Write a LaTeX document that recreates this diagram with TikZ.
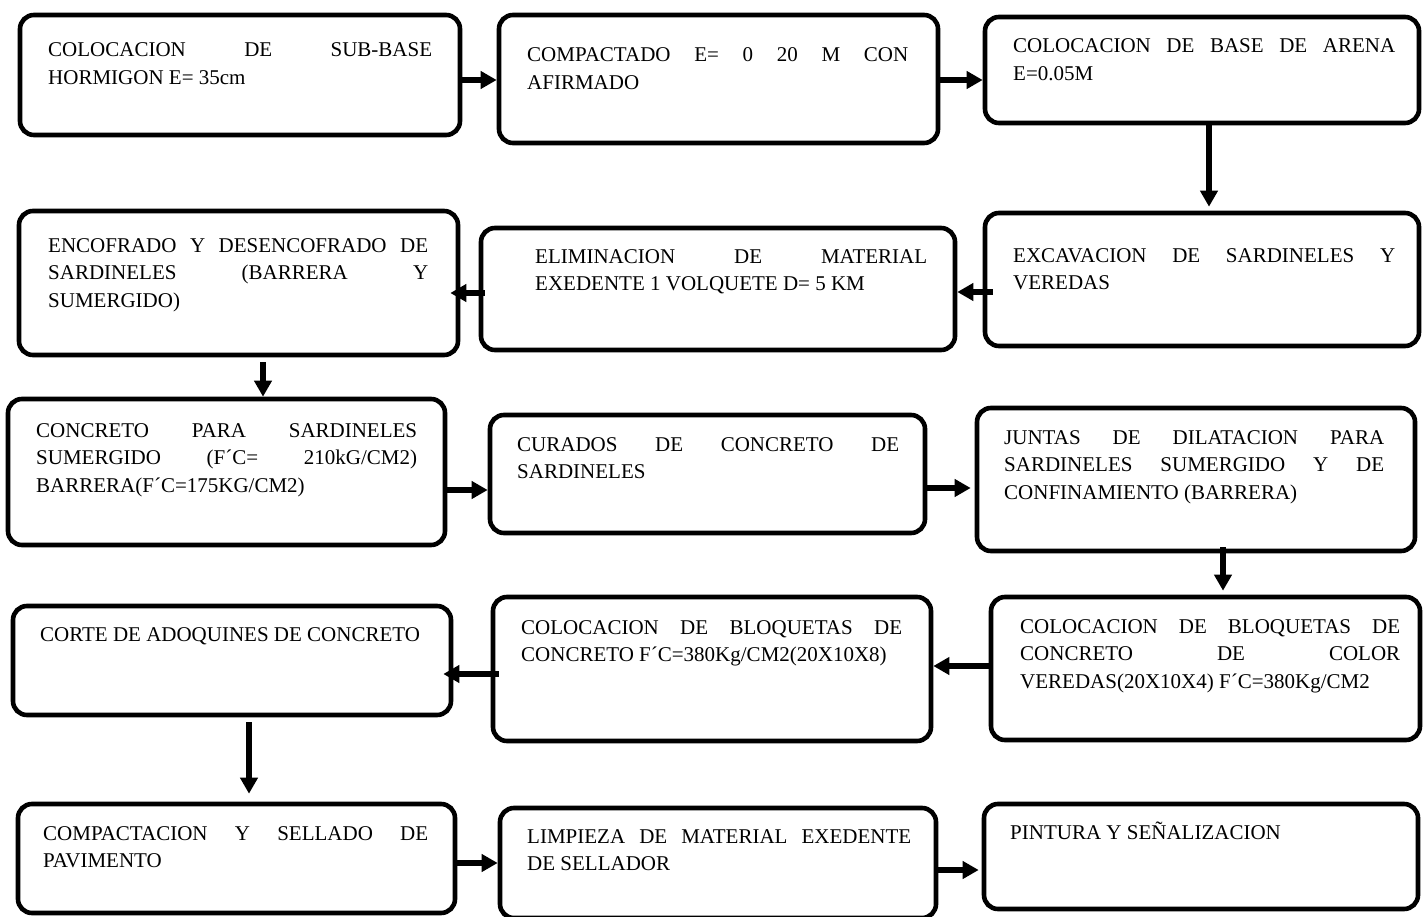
\documentclass[tikz,border=0pt]{standalone}
\usepackage{fontspec}
\setmainfont{Liberation Serif}
\usetikzlibrary{arrows.meta}
\newcommand\myjl[1]{\hbox to \hsize{#1}}
\newcommand\mylast[1]{\hbox{#1}}
\newcommand\mytxt[2]{\vtop{\hsize=#1pt\baselineskip=27.5pt\lineskiplimit=-50pt #2}}
\begin{document}
\begin{tikzpicture}[x=1pt,y=-1pt,
  stepbox/.style={draw=black, line width=4.6pt, rounded corners=14pt, rectangle, inner sep=0pt},
  txt/.style={anchor=base west, inner sep=0pt, font=\fontsize{21}{27.5}\selectfont},
  arr/.style={line width=5.5pt, -{Triangle[length=16pt,width=17pt]}}]
\fill[white] (0,0) rectangle (1423,917);
\useasboundingbox (0,0) rectangle (1423,917);

% boxes
\node[stepbox, minimum width=440pt, minimum height=120pt] (b1) at (240,75) {};
\node[stepbox, minimum width=439pt, minimum height=128pt] (b2) at (718.5,79) {};
\node[stepbox, minimum width=434pt, minimum height=106pt] (b3) at (1202,70) {};
\node[stepbox, minimum width=434pt, minimum height=133pt] (b4) at (1202,279.5) {};
\node[stepbox, minimum width=474pt, minimum height=122pt] (b5) at (718,289) {};
\node[stepbox, minimum width=439pt, minimum height=144pt] (b6) at (238.5,283) {};
\node[stepbox, minimum width=437pt, minimum height=146pt] (b7) at (226.5,472) {};
\node[stepbox, minimum width=435pt, minimum height=118pt] (b8) at (707.5,474) {};
\node[stepbox, minimum width=438pt, minimum height=143pt] (b9) at (1196,479.5) {};
\node[stepbox, minimum width=429pt, minimum height=143pt] (b10) at (1205.5,668.5) {};
\node[stepbox, minimum width=438pt, minimum height=144pt] (b11) at (712,669) {};
\node[stepbox, minimum width=438pt, minimum height=109pt] (b12) at (232,660.5) {};
\node[stepbox, minimum width=437pt, minimum height=109pt] (b13) at (236.5,858.5) {};
\node[stepbox, minimum width=436pt, minimum height=110pt] (b14) at (718,863) {};
\node[stepbox, minimum width=434pt, minimum height=105pt] (b15) at (1201,856.5) {};

% texts
\node[txt] (t1) at (48,57) {\mytxt{384}{\myjl{COLOCACION DE SUB-BASE}\mylast{HORMIGON E= 35cm}}};
\node[txt] (t2) at (527,62) {\mytxt{381}{\myjl{COMPACTADO E= 0 20 M CON}\mylast{AFIRMADO}}};
\node[txt] (t3) at (1013,53) {\mytxt{382}{\myjl{COLOCACION DE BASE DE ARENA}\mylast{E=0.05M}}};
\node[txt] (t4) at (1013,262) {\mytxt{382}{\myjl{EXCAVACION DE SARDINELES Y}\mylast{VEREDAS}}};
\node[txt] (t5) at (535,263) {\mytxt{392}{\myjl{ELIMINACION DE MATERIAL}\mylast{EXEDENTE 1 VOLQUETE D= 5 KM}}};
\node[txt] (t6) at (48,252) {\mytxt{380}{\myjl{ENCOFRADO Y DESENCOFRADO DE}\myjl{SARDINELES (BARRERA Y}\mylast{SUMERGIDO)}}};
\node[txt] (t7) at (36,437) {\mytxt{381}{\myjl{CONCRETO PARA SARDINELES}\myjl{SUMERGIDO (F´C= 210kG/CM2)}\mylast{BARRERA(F´C=175KG/CM2)}}};
\node[txt] (t8) at (517,451) {\mytxt{382}{\myjl{CURADOS DE CONCRETO DE}\mylast{SARDINELES}}};
\node[txt] (t9) at (1004,444) {\mytxt{380}{\myjl{JUNTAS DE DILATACION PARA}\myjl{SARDINELES SUMERGIDO Y DE}\mylast{CONFINAMIENTO (BARRERA)}}};
\node[txt] (t10) at (1020,633) {\mytxt{380}{\myjl{COLOCACION DE BLOQUETAS DE}\myjl{CONCRETO DE COLOR}\mylast{VEREDAS(20X10X4) F´C=380Kg/CM2}}};
\node[txt] (t11) at (521,634) {\mytxt{381}{\myjl{COLOCACION DE BLOQUETAS DE}\mylast{CONCRETO F´C=380Kg/CM2(20X10X8)}}};
\node[txt] (t12) at (40,641) {\mytxt{385}{\mylast{CORTE DE ADOQUINES DE CONCRETO}}};
\node[txt] (t13) at (43,840) {\mytxt{385}{\myjl{COMPACTACION Y SELLADO DE}\mylast{PAVIMENTO}}};
\node[txt] (t14) at (527,843) {\mytxt{384}{\myjl{LIMPIEZA DE MATERIAL EXEDENTE}\mylast{DE SELLADOR}}};
\node[txt] (t15) at (1010,839) {\mytxt{384}{\mylast{PINTURA Y SEÑALIZACION}}};

% arrows
\draw[arr] ([yshift=-5pt]b1.east) -- ([yshift=-5pt]b1.east -| b2.west);
\draw[arr] ([yshift=-1pt]b2.east) -- ([yshift=-1pt]b2.east -| b3.west);
\draw[arr] ([xshift=7pt]b3.south) -- ([xshift=7pt,yshift=4pt]b3.south |- b4.north);
\draw[arr] ([xshift=10pt,yshift=-12.5pt]b4.west) -- ([yshift=-12.5pt]b4.west -| b5.east);
\draw[arr] ([xshift=6pt,yshift=-4pt]b5.west) -- ([xshift=-10pt,yshift=-4pt]b5.west -| b6.east);
\draw[arr] ([xshift=24.5pt,yshift=-5pt]b6.south) -- ([xshift=24.5pt]b6.south |- b7.north);
\draw[arr] ([yshift=-18pt]b7.east) -- ([yshift=-18pt]b7.east -| b8.west);
\draw[arr] ([yshift=-14pt]b8.east) -- ([xshift=-4pt,yshift=-14pt]b8.east -| b9.west);
\draw[arr] ([xshift=27pt,yshift=6pt]b9.south) -- ([xshift=27pt,yshift=4pt]b9.south |- b10.north);
\draw[arr] ([xshift=3pt,yshift=2.5pt]b10.west) -- ([yshift=2.5pt]b10.west -| b11.east);
\draw[arr] ([xshift=8pt,yshift=-5pt]b11.west) -- ([xshift=-10pt,yshift=-5pt]b11.west -| b12.east);
\draw[arr] ([xshift=17pt,yshift=-5pt]b12.south) -- ([xshift=17pt,yshift=8pt]b12.south |- b13.north);
\draw[arr] ([yshift=-4.5pt]b13.east) -- ([yshift=-4.5pt]b13.east -| b14.west);
\draw[arr] ([yshift=-7pt]b14.east) -- ([xshift=-3pt,yshift=-7pt]b14.east -| b15.west);
\end{tikzpicture}
\end{document}
